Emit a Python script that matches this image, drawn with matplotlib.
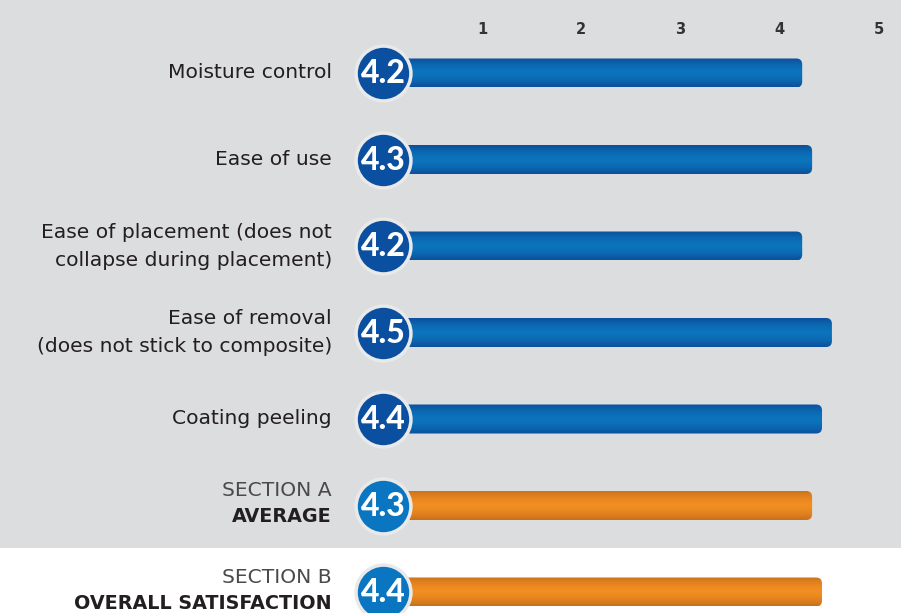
import matplotlib
matplotlib.use('Agg')
import matplotlib.pyplot as plt
import numpy as np
from matplotlib.patches import FancyBboxPatch, Rectangle

plt.rcParams['font.family'] = ['DejaVu Sans']

# data
labels = ['Moisture control', 'Ease of use',
          'Ease of placement (does not\ncollapse during placement)',
          'Ease of removal\n(does not stick to composite)',
          'Coating peeling']
values = [4.2, 4.3, 4.2, 4.5, 4.4]
section_top = ['SECTION A', 'SECTION B']
section_bottom = ['AVERAGE', 'OVERALL SATISFACTION']
section_values = [4.3, 4.4]
ticks = [1, 2, 3, 4, 5]

# pixel mapping helpers (figure is 915x613)
PX_X0, PX_UNIT = 383, 99.1
PX_Y0, PX_ROW = 73, 86.5
W, H = 915, 613


def blend(c1, c2, t):
    c1 = np.array(matplotlib.colors.to_rgb(c1))
    c2 = np.array(matplotlib.colors.to_rgb(c2))
    return c1 * (1 - t) + c2 * t


def draw_bar(ax, y, v, edge_col, mid_col):
    h = 29 / PX_ROW
    aspect = PX_UNIT / PX_ROW
    length = v + 0.03
    patch = FancyBboxPatch((0, y - h / 2), length, h,
                           boxstyle='round,pad=0,rounding_size=0.06',
                           mutation_aspect=aspect,
                           facecolor='none', edgecolor='none', zorder=2)
    ax.add_patch(patch)
    t = np.abs(np.linspace(-1, 1, 60)) ** 1.6
    grad = np.array([blend(mid_col, edge_col, s) for s in t])[:, None, :]
    im = ax.imshow(grad, extent=[0, length, y + h / 2, y - h / 2], aspect='auto',
                   zorder=2, interpolation='bilinear')
    im.set_clip_path(patch)


def draw_badge(ax, y, v, col):
    ax.scatter([0], [y], s=39.5 ** 2, color=col, edgecolor='#e9e9ea',
               linewidth=2.5, zorder=4, clip_on=False)
    ax.text(0, y + 0.01, f'{v:.1f}', color='white', fontsize=23,
            fontweight='black', family=['Lato', 'DejaVu Sans'],
            ha='center', va='center', zorder=5)


fig = plt.figure(figsize=(9.15, 6.13), dpi=100)
ax = fig.add_axes([0, 0, 1, 1])
ax.axis('off')

# gray panel
ax.add_patch(Rectangle((0, 1 - 548 / H), 901 / W, 548 / H, transform=ax.transAxes,
                       facecolor='#dcdddf', edgecolor='none', zorder=0))

label_x = (332 - PX_X0) / PX_UNIT

for i, (lab, v) in enumerate(zip(labels, values)):
    draw_bar(ax, i, v, '#0d4f9c', '#0b74bd')
    draw_badge(ax, i, v, '#0b4fa1')
    ax.text(label_x, i, lab, ha='right', va='center', fontsize=14.6,
            color='#231f20', linespacing=1.6)

for j, (top, bot, v) in enumerate(zip(section_top, section_bottom, section_values)):
    y = len(labels) + j
    draw_bar(ax, y, v, '#c8701a', '#f28e22')
    draw_badge(ax, y, v, '#0a75c0')
    ax.text(label_x, y - 0.17, top, ha='right', va='center', fontsize=14.6,
            color='#4a4a4a', fontweight='normal')
    ax.text(label_x, y + 0.13, bot, ha='right', va='center', fontsize=13.8,
            color='#231f20', fontweight='bold')

tick_y = (29 - PX_Y0) / PX_ROW
for t in ticks:
    ax.text(t, tick_y, str(t), ha='center', va='center', fontsize=10.5,
            fontweight='bold', color='#333333')

ax.set_xlim(-PX_X0 / PX_UNIT, (W - PX_X0) / PX_UNIT)
ax.set_ylim((H - PX_Y0) / PX_ROW, -PX_Y0 / PX_ROW)

fig.savefig('out.png', dpi=100, facecolor='white')
